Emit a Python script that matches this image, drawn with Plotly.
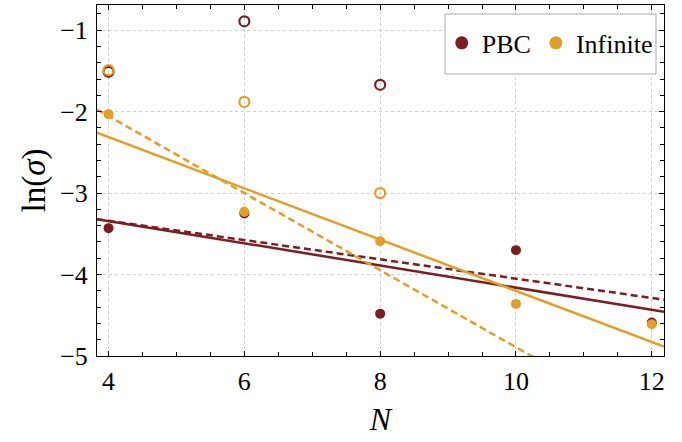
import numpy as np
import plotly.graph_objects as go

# ---- data ----
N = [4, 6, 8, 10, 12]
pbc_filled = [-3.43, -3.25, -4.48, -3.70, -4.59]
inf_filled = [-2.03, -3.23, -3.59, -4.36, -4.61]

N_open = [4, 6, 8]
pbc_open = [-1.51, -0.89, -1.67]
inf_open = [-1.49, -1.88, -3.00]

# linear fits: (intercept, slope)
pbc_fit_solid = (-2.797, -0.1364)
pbc_fit_dash = (-2.866, -0.1184)
inf_fit_solid = (-1.054, -0.3146)
inf_fit_dash = (-0.162, -0.473)

x_range = [3.83, 12.18]
y_range = [-5.0, -0.69]

PBC_COLOR = "#7C1D20"
INF_COLOR = "#E29E26"
FONT = "Liberation Serif"

xl = np.array(x_range)


def fit_line(p):
    return p[0] + p[1] * xl


fig = go.Figure()

lines = [
    (pbc_fit_solid, PBC_COLOR, "solid"),
    (pbc_fit_dash, PBC_COLOR, "7px,4px"),
    (inf_fit_solid, INF_COLOR, "solid"),
    (inf_fit_dash, INF_COLOR, "7px,4px"),
]
for p, c, d in lines:
    fig.add_trace(go.Scatter(x=xl, y=fit_line(p), mode="lines",
                             line=dict(color=c, width=2.5, dash=d),
                             showlegend=False, hoverinfo="skip"))

fig.add_trace(go.Scatter(x=N_open, y=pbc_open, mode="markers",
                         marker=dict(symbol="circle-open", size=10, color=PBC_COLOR,
                                     line=dict(width=2.2, color=PBC_COLOR)),
                         showlegend=False))
fig.add_trace(go.Scatter(x=N_open, y=inf_open, mode="markers",
                         marker=dict(symbol="circle-open", size=10, color=INF_COLOR,
                                     line=dict(width=2.2, color=INF_COLOR)),
                         showlegend=False))
fig.add_trace(go.Scatter(x=N, y=pbc_filled, mode="markers",
                         marker=dict(size=10, color=PBC_COLOR), showlegend=False))
fig.add_trace(go.Scatter(x=N, y=inf_filled, mode="markers",
                         marker=dict(size=10, color=INF_COLOR), showlegend=False))

# legend entries
fig.add_trace(go.Scatter(x=[None], y=[None], mode="markers", name="PBC",
                         marker=dict(size=13, color=PBC_COLOR)))
fig.add_trace(go.Scatter(x=[None], y=[None], mode="markers", name="Infinite",
                         marker=dict(size=13, color=INF_COLOR)))

fig.update_xaxes(
    range=x_range, tickvals=N, ticktext=[str(v) for v in N],
    showline=True, linecolor="black", linewidth=1, mirror="allticks",
    ticks="inside", ticklen=5, tickwidth=1, tickcolor="black",
    showgrid=True, gridcolor="#cfcfcf", gridwidth=1, griddash="dot",
    zeroline=False,
    tickfont=dict(family=FONT, size=26),
    minor=dict(dtick=0.5, tick0=4, ticks="inside", ticklen=4, tickcolor="black", showgrid=False),
    ticklabelstandoff=2,
    title=dict(text="<i>N</i>", font=dict(family=FONT, size=32), standoff=12),
)
fig.update_yaxes(
    range=y_range, tickvals=[-1, -2, -3, -4, -5],
    showline=True, linecolor="black", linewidth=1, mirror="allticks",
    ticks="inside", ticklen=5, tickwidth=1, tickcolor="black",
    showgrid=True, gridcolor="#cfcfcf", gridwidth=1, griddash="dot",
    zeroline=False,
    tickfont=dict(family=FONT, size=26),
    minor=dict(dtick=0.2, tick0=-5, ticks="inside", ticklen=4, tickcolor="black", showgrid=False),
    ticklabelstandoff=3,
    title=dict(text="ln(<i>σ</i>)", font=dict(family=FONT, size=33), standoff=4),
)

x0p = (445 - 97) / 567
x1p = (656 - 97) / 567
y0p = (356 - 74) / 351
y1p = (356 - 14) / 351
fig.add_shape(type="rect", xref="paper", yref="paper", x0=x0p, x1=x1p, y0=y0p, y1=y1p,
              line=dict(color="#aaaaaa", width=1), fillcolor="white", layer="above")

fig.update_layout(
    width=682, height=442,
    margin=dict(l=97, r=18, t=5, b=86),
    paper_bgcolor="white", plot_bgcolor="white",
    font=dict(color="black"),
    showlegend=True,
    legend=dict(orientation="h", x=0.608, y=0.892, xanchor="left", yanchor="middle",
                bgcolor="rgba(0,0,0,0)", borderwidth=0,
                font=dict(family=FONT, size=26)),
)

fig.write_html("out.html")
